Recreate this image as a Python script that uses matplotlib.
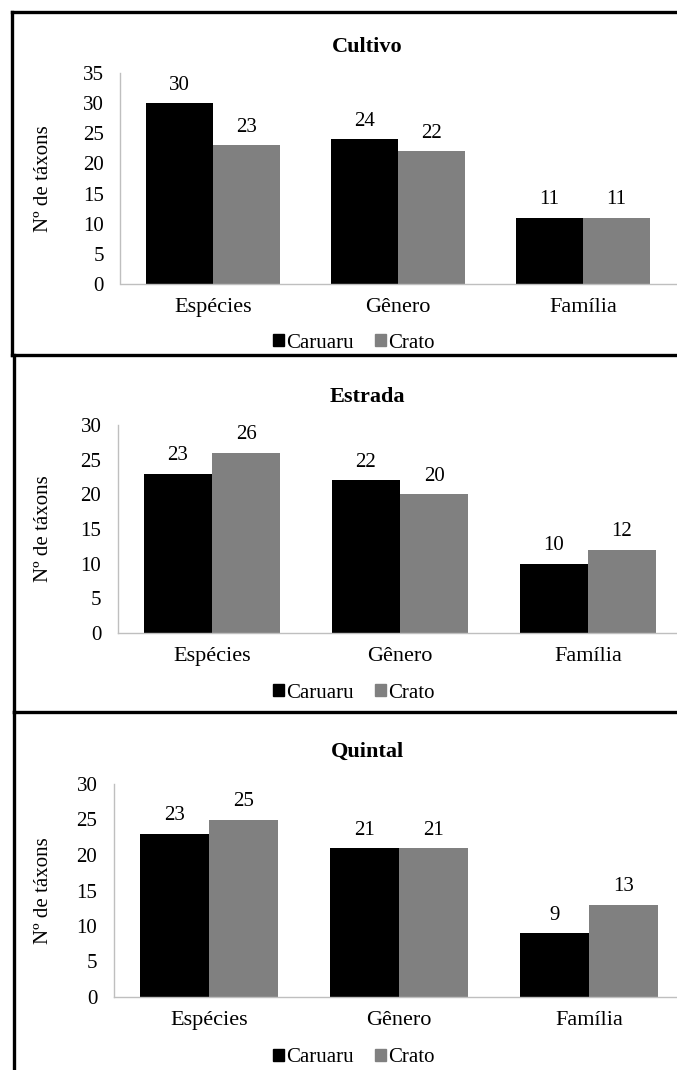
import numpy as np
import matplotlib.pyplot as plt
from matplotlib.lines import Line2D
from matplotlib.patches import Patch

plt.rcParams['font.family'] = ['Liberation Serif', 'DejaVu Serif']

categorias = ['Espécies', 'Gênero', 'Família']
titulos = ['Cultivo', 'Estrada', 'Quintal']
caruaru = [[30, 24, 11], [23, 22, 10], [23, 21, 9]]
crato = [[23, 22, 11], [26, 20, 12], [25, 21, 13]]
ymax = [35, 30, 30]

W, H = 677, 1070
fig = plt.figure(figsize=(W / 100, H / 100), dpi=100)

# axes boxes in pixels: left, right, y of zero, y of top
boxes = [(120.5, 675.5, 284, 73), (118, 682, 633, 425), (114, 684, 997, 784)]
title_y = [47, 397, 752]
legend_y = [343, 693, 1058]

c_black = '#000000'
c_gray = '#808080'
axis_col = '#bfbfbf'
w = 0.362

for i in range(3):
    l, r, y0, y1 = boxes[i]
    ax = fig.add_axes([l / W, 1 - y0 / H, (r - l) / W, (y0 - y1) / H])
    x = np.arange(len(categorias))
    b1 = ax.bar(x - w / 2, caruaru[i], w, color=c_black)
    b2 = ax.bar(x + w / 2, crato[i], w, color=c_gray)
    ax.bar_label(b1, padding=6, fontsize=15)
    ax.bar_label(b2, padding=6, fontsize=15)
    ax.set_xlim(-0.5, 2.5)
    ax.set_ylim(0, ymax[i])
    ax.set_yticks(np.arange(0, ymax[i] + 1, 5))
    ax.set_xticks(x)
    ax.set_xticklabels(categorias, fontsize=16)
    ax.tick_params(axis='y', length=0, pad=12, labelsize=15)
    ax.tick_params(axis='x', length=0, pad=10)
    for s in ['top', 'right']:
        ax.spines[s].set_visible(False)
    for s in ['left', 'bottom']:
        ax.spines[s].set_color(axis_col)
        ax.spines[s].set_linewidth(1)
    fig.text(43 / W, 1 - (y0 + y1) / 2 / H, 'Nº de táxons', rotation=90,
             ha='center', va='center', fontsize=15)
    fig.text(367 / W, 1 - title_y[i] / H, titulos[i], ha='center', va='center',
             fontsize=16, fontweight='bold')
    handles = [Patch(color=c_black), Patch(color=c_gray)]
    fig.legend(handles, ['Caruaru', 'Crato'], loc='center',
               bbox_to_anchor=(354 / W, 1 - legend_y[i] / H), ncol=2,
               frameon=False, fontsize=15, handlelength=0.55, handleheight=0.55,
               handletextpad=0.1, columnspacing=1.0)

# panel frames (pixels)
lw = 2.4
hlines = [(12, 12, 677), (355, 12, 677), (712, 14, 677)]   # y, x0, x1
vlines = [(12, 12, 355), (14, 355, 712), (14, 712, 1070)]  # x, y0, y1
for y, x0, x1 in hlines:
    fig.add_artist(Line2D([x0 / W, x1 / W], [1 - y / H] * 2, color='black', lw=lw))
for xv, y0, y1 in vlines:
    fig.add_artist(Line2D([xv / W] * 2, [1 - y0 / H, 1 - y1 / H], color='black', lw=lw))

fig.savefig('out.png', dpi=100)
